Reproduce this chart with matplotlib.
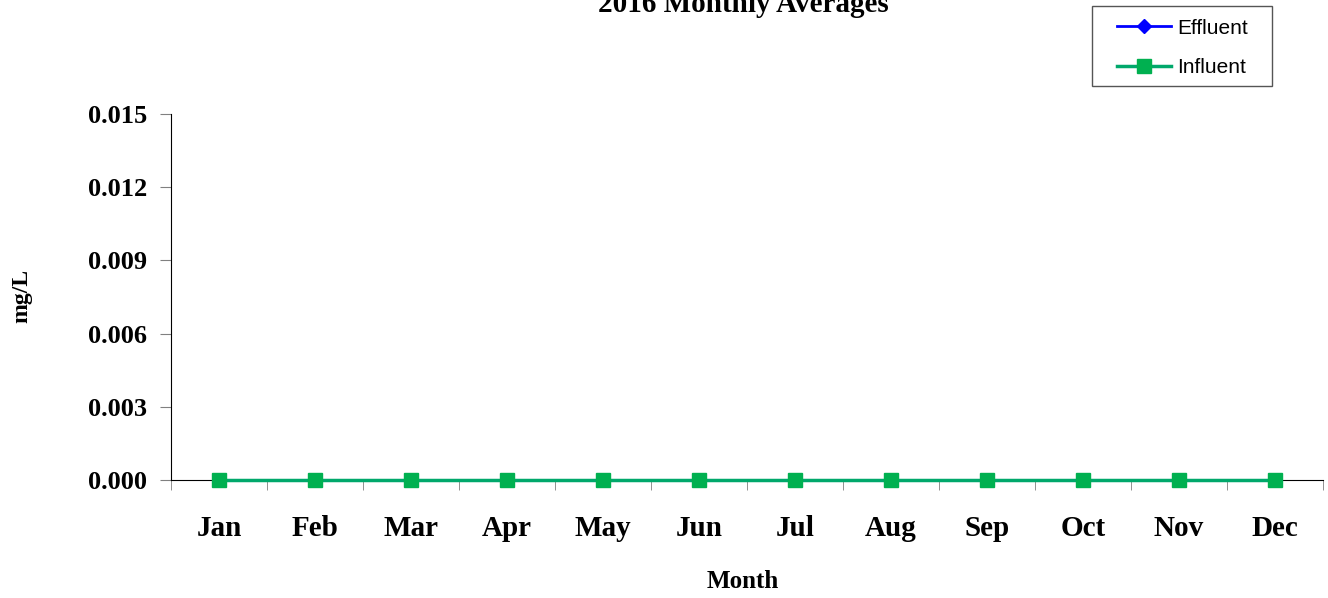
import matplotlib
matplotlib.use("Agg")
import matplotlib.pyplot as plt
from matplotlib.patches import Rectangle
import numpy as np

months = ["Jan", "Feb", "Mar", "Apr", "May", "Jun", "Jul", "Aug", "Sep", "Oct", "Nov", "Dec"]
effluent = [0.0, 0.0, 0.0, 0.0, 0.0, 0.0, 0.0, 0.0, 0.0, 0.0, 0.0, 0.0]
influent = [0.0, 0.0, 0.0, 0.0, 0.0, 0.0, 0.0, 0.0, 0.0, 0.0, 0.0, 0.0]
y_ticks = [0.000, 0.003, 0.006, 0.009, 0.012, 0.015]

serif = "Liberation Serif"

fig = plt.figure(figsize=(13.28, 5.98), dpi=100)
ax = fig.add_axes([171/1328, 1 - 480/598, 1152/1328, 366/598])

x = np.arange(len(months))
ax.plot(x, effluent, color="#0000FF", marker="D", markersize=7, linewidth=2, label="Effluent", clip_on=False, zorder=3)
ax.plot(x, influent, color="#00A86B", marker="s", markersize=10, markerfacecolor="#00B050",
        markeredgecolor="#00B050", linewidth=2.5, label="Influent", clip_on=False, zorder=4)

ax.set_xlim(-0.5, len(months) - 0.5)
ax.set_ylim(0, 0.015)
ax.set_yticks(y_ticks)
ax.set_yticklabels([f"{v:.3f}" for v in y_ticks], fontfamily=serif, fontweight="bold", fontsize=19)
ax.set_xticks(x)
ax.set_xticklabels(months, fontfamily=serif, fontweight="bold", fontsize=21)
ax.set_xticks(np.arange(-0.5, len(months)), minor=True)
ax.tick_params(axis="x", which="major", length=0, pad=25)
ax.tick_params(axis="x", which="minor", length=7, color="#808080", direction="out")
ax.tick_params(axis="y", length=8, color="#808080", direction="out", pad=9)

for s in ["top", "right"]:
    ax.spines[s].set_visible(False)
ax.spines["left"].set_color("black")
ax.spines["bottom"].set_color("black")

fig.text(743/1328, 1 - 581/598, "Month", ha="center", va="center", fontfamily=serif, fontweight="bold", fontsize=18)
fig.text(22/1328, 1 - 296/598, "mg/L", ha="center", va="center", rotation=90, fontfamily=serif, fontweight="bold", fontsize=17)
fig.text(743/1328, 1 - 5/598, "2016 Monthly Averages", ha="center", va="center", fontfamily=serif, fontweight="bold", fontsize=21)

# legend box drawn separately so the padding matches
fig.patches.append(Rectangle((1092/1328, 1 - 86/598), 180/1328, 80/598, transform=fig.transFigure,
                             facecolor="white", edgecolor="#555555", linewidth=1, zorder=5))
leg = fig.legend(loc="upper left", bbox_to_anchor=(1104/1328, 1 - 6/598), prop={"family": "Liberation Sans", "size": 15},
                 frameon=False, handlelength=2.6, handletextpad=0.3,
                 borderpad=0.6, labelspacing=1.0, borderaxespad=0)
leg.set_zorder(6)

fig.savefig("out.png", dpi=100)
